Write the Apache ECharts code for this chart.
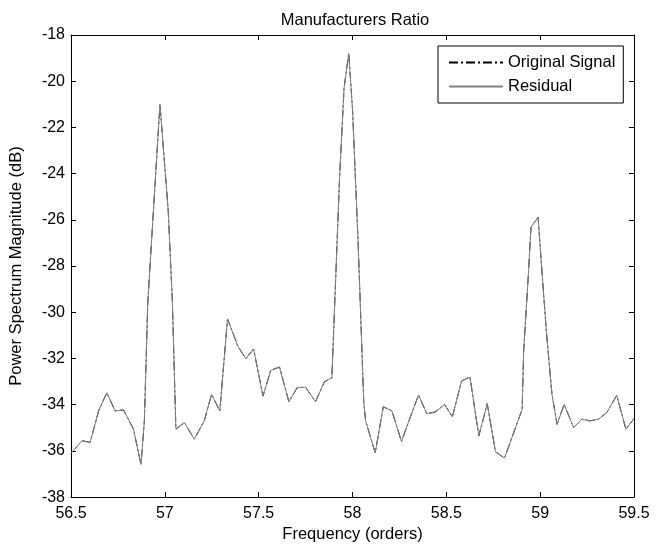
<!DOCTYPE html>
<html>
<head>
<meta charset="utf-8">
<script src="https://cdn.jsdelivr.net/npm/echarts@6/dist/echarts.min.js"></script>
<style>
html,body{margin:0;padding:0;background:#fff;}
#chart{width:665px;height:548px;}
</style>
</head>
<body>
<div id="chart"></div>
<script>
'use strict';
// frequency (orders) of each sample
var orders = [
	56.500, 56.523, 56.558, 56.602, 56.647, 56.691, 56.735, 56.780, 56.833, 56.873,
	56.891, 56.909, 56.974, 57.018, 57.040, 57.059, 57.104, 57.157, 57.210, 57.249,
	57.293, 57.334, 57.390, 57.431, 57.473, 57.523, 57.564, 57.611, 57.661, 57.705,
	57.749, 57.803, 57.850, 57.890, 57.931, 57.955, 57.980, 58.000, 58.030, 58.060,
	58.070, 58.121, 58.164, 58.210, 58.261, 58.307, 58.352, 58.396, 58.440, 58.491,
	58.532, 58.581, 58.626, 58.673, 58.718, 58.762, 58.810, 58.904, 58.912, 58.939,
	58.951, 58.989, 59.000, 59.033, 59.063, 59.090, 59.128, 59.178, 59.222, 59.266,
	59.311, 59.355, 59.408, 59.457, 59.500
];
// power spectrum magnitude (dB)
var residual = [
	-36.10, -35.90, -35.56, -35.63, -34.27, -33.48, -34.27, -34.23, -35.06, -36.59,
	-34.70, -29.60, -21.00, -25.60, -29.50, -35.06, -34.77, -35.49, -34.70, -33.55,
	-34.27, -30.29, -31.48, -32.01, -31.59, -33.63, -32.52, -32.37, -33.87, -33.27,
	-33.24, -33.87, -33.01, -32.84, -24.20, -20.30, -18.79, -21.20, -27.00, -33.90,
	-34.70, -36.09, -34.09, -34.27, -35.59, -34.56, -33.58, -34.39, -34.32, -33.99,
	-34.53, -32.98, -32.80, -35.35, -33.96, -36.04, -36.31, -34.20, -31.69, -28.11,
	-26.32, -25.89, -27.17, -30.83, -33.56, -34.85, -33.99, -34.99, -34.63, -34.70,
	-34.63, -34.34, -33.60, -35.06, -34.60
];
// the original signal lies under the residual everywhere
var originalSignal = residual.slice();
var seriesNames = ['Original Signal', 'Residual'];

function pairs(xs, ys){
	var out = [];
	for (var i = 0; i < xs.length; i++) out.push([xs[i], ys[i]]);
	return out;
}

var font = 'Liberation Sans, Arial, sans-serif';
var axisCommon = {
	axisLine:{show:true, onZero:false, lineStyle:{color:'#000', width:1}},
	axisTick:{show:true, inside:true, length:5, lineStyle:{color:'#000'}},
	splitLine:{show:false}
};

var chart = echarts.init(document.getElementById('chart'));
chart.setOption({
	backgroundColor:'#fff',
	animation:false,
	title:{
		text:'Manufacturers Ratio', left:350, top:7, textAlign:'center',
		textStyle:{fontFamily:font, fontSize:16.5, fontWeight:'normal', color:'#000'}
	},
	legend:{
		orient:'vertical', left:438, top:46,
		padding:[8, 8, 8, 10], itemGap:7,
		itemWidth:54, itemHeight:10,
		backgroundColor:'#fff', borderColor:'#000', borderWidth:1,
		itemStyle:{opacity:0},
		textStyle:{fontFamily:font, fontSize:16.5, color:'#000'},
		data:seriesNames
	},
	grid:{left:69, right:31, top:35, bottom:48, containLabel:false},
	xAxis:[
		Object.assign({
			type:'value', min:56.5, max:59.5, interval:0.5,
			name:'Frequency (orders)', nameLocation:'middle', nameGap:28,
			nameTextStyle:{fontFamily:font, fontSize:16.5, color:'#000'},
			axisLabel:{fontFamily:font, fontSize:16, color:'#000', margin:8}
		}, axisCommon),
		Object.assign({
			type:'value', position:'top', min:56.5, max:59.5, interval:0.5,
			axisLabel:{show:false}
		}, axisCommon)
	],
	yAxis:[
		Object.assign({
			type:'value', min:-38, max:-18, interval:2,
			name:'Power Spectrum Magnitude (dB)', nameLocation:'middle', nameGap:46,
			nameTextStyle:{fontFamily:font, fontSize:16.5, color:'#000'},
			axisLabel:{fontFamily:font, fontSize:16, color:'#000', margin:6}
		}, axisCommon),
		Object.assign({
			type:'value', position:'right', min:-38, max:-18, interval:2,
			axisLabel:{show:false}
		}, axisCommon)
	],
	series:[
		{
			name:seriesNames[0], type:'line', symbol:'none',
			data:pairs(orders, originalSignal),
			itemStyle:{color:'#000'},
			lineStyle:{color:'#000', width:1, type:[9, 3, 2, 3]}
		},
		{
			name:seriesNames[1], type:'line', symbol:'none',
			data:pairs(orders, residual),
			itemStyle:{color:'#808080'},
			lineStyle:{color:'#808080', width:1}
		}
	]
});
</script>
</body>
</html>
